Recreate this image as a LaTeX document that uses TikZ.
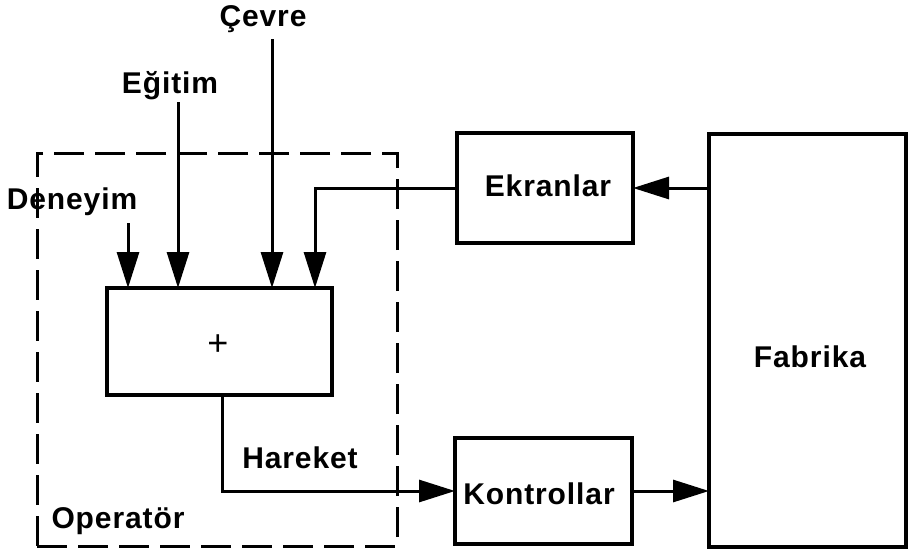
\documentclass[tikz,border=0pt]{standalone}
\usepackage{fontspec}
\setmainfont{Liberation Sans}
\newfontfamily\lblfont[LetterSpace=3]{Liberation Sans}
\usetikzlibrary{arrows.meta}
\begin{document}
\begin{tikzpicture}[x=1pt,y=-1pt,
  box/.style={draw,line width=4pt,rectangle,inner sep=0pt,outer sep=0pt},
  lbl/.style={font=\fontsize{30}{36}\lblfont\bfseries,anchor=base,inner sep=0pt},
  arr/.style={line width=3pt,-{Triangle[length=36pt,width=22pt]}},
  opbox/.style={draw,line width=3pt,dash pattern=on 30pt off 11pt,rectangle,inner sep=0pt,outer sep=0pt}
]
\useasboundingbox (0,0) rectangle (910,554);
% operator dashed box
\node[opbox,minimum width=360pt,minimum height=393pt] (oper) at (217,349.5) {};
% blocks
\node[box,minimum width=225pt,minimum height=107pt] (op) at (219.5,341.5) {};
\node[font=\fontsize{36}{40}\selectfont,anchor=base,inner sep=0pt] (plus) at (218,355) {+};
\node[box,minimum width=176pt,minimum height=110pt] (ekr) at (545,188) {};
\node[lbl] (ekrtxt) at (548,196) {Ekranlar};
\node[box,minimum width=177pt,minimum height=106pt] (kon) at (543.5,491) {};
\node[lbl] (kontxt) at (539,504) {Kontrollar};
\node[box,minimum width=197pt,minimum height=413pt] (fab) at (807.5,340.5) {};
\node[lbl] (fabtxt) at (810,367) {Fabrika};
% labels
\node[lbl] (cevre) at (263,27) {Çevre};
\node[lbl] (egitim) at (170,93) {Eğitim};
\node[lbl] (deneyim) at (72,209) {Deneyim};
\node[lbl] (hareket) at (300,468) {Hareket};
\node[lbl] (operator) at (118,528) {Operatör};
% free ends
\coordinate (dtop) at (128,223);
\coordinate (etop) at (178,102);
\coordinate (ctop) at (272,39);
\coordinate (fbx) at (315,188);
% connectors
\draw[arr] (dtop) -- (dtop |- op.north);
\draw[arr] (etop) -- (etop |- op.north);
\draw[arr] (ctop) -- (ctop |- op.north);
\draw[arr] (ekr.west) -- (fbx) -- (fbx |- op.north);
\draw[arr] (fab.west |- ekr.west) -- (ekr.east);
\draw[arr] ([xshift=2.5pt]op.south) |- (kon.west);
\draw[arr] (kon.east) -- (kon.east -| fab.west);
\end{tikzpicture}
\end{document}
